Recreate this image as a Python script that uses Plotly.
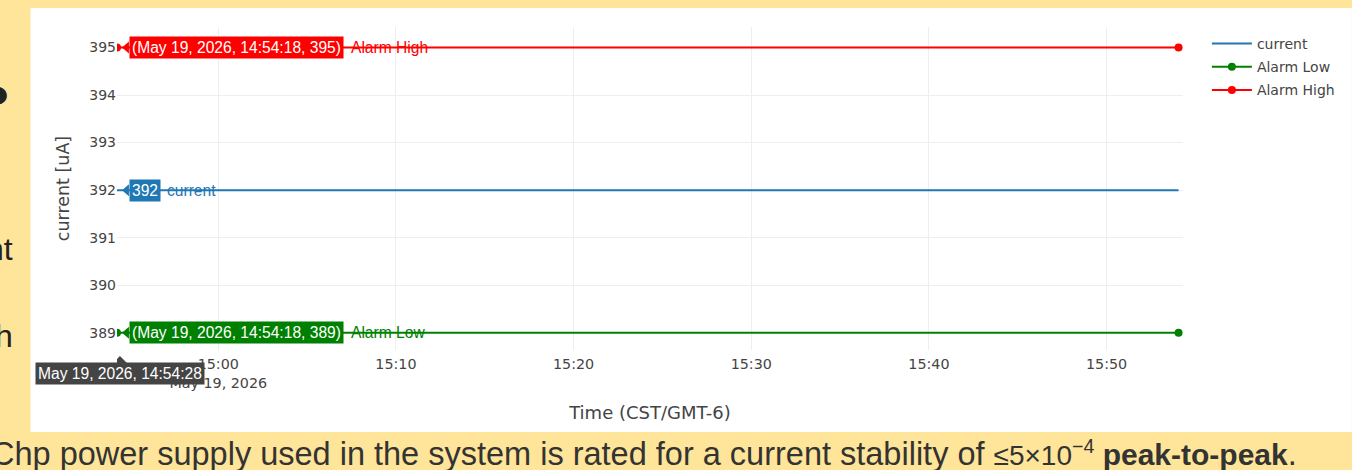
import plotly.graph_objects as go

# ---------------- data ----------------
alarm_times = ["2026-05-19 14:54:18", "2026-05-19 15:54:03"]
alarm_high = [395, 395]
alarm_low = [389, 389]

current_times = ["2026-05-19 14:54:18", "2026-05-19 14:54:28", "2026-05-19 15:04:28",
                 "2026-05-19 15:14:28", "2026-05-19 15:24:28", "2026-05-19 15:34:28",
                 "2026-05-19 15:44:28", "2026-05-19 15:54:03"]
current_vals = [392, 392, 392, 392, 392, 392, 392, 392]

x_range = ["2026-05-19 14:54:18", "2026-05-19 15:54:18"]
y_range = [388.64, 395.43]
y_ticks = [389, 390, 391, 392, 393, 394, 395]

hover_time = "2026-05-19 14:54:28"
hover_time_label = "May 19, 2026, 14:54:28"
alarm_time_label = "May 19, 2026, 14:54:18"

slide_text = ("Chp power supply used in the system is rated for a current stability of "
              "<span style='font-size:28px'>≤5×10<sup>−4</sup></span>"
              "<b><span style='font-size:30px'> peak-to-peak</span></b>.")

BLUE = "#1f77b4"
GREEN = "#008000"
RED = "#ff0000"
YELLOW = "#ffe599"

W, H = 1352, 470
L, R, T, B = 117, 162, 27, 120
PW, PH = W - L - R, H - T - B


def px_x(p):
    return (p - L) / PW


def px_y(p):
    return (H - B - p) / PH


fig = go.Figure()
fig.add_trace(go.Scatter(x=current_times, y=current_vals, name="current", mode="lines",
                         line=dict(color=BLUE, width=2), legendgroup="a"))
fig.add_trace(go.Scatter(x=alarm_times, y=alarm_low, name="Alarm Low", mode="lines+markers",
                         line=dict(color=GREEN, width=2), marker=dict(size=8, color=GREEN),
                         legendgroup="b"))
fig.add_trace(go.Scatter(x=alarm_times, y=alarm_high, name="Alarm High", mode="lines+markers",
                         line=dict(color=RED, width=2), marker=dict(size=8, color=RED),
                         legendgroup="c"))

shapes = []
annotations = []

# white panel of the screenshot
shapes.append(dict(type="rect", xref="paper", yref="paper", x0=px_x(30), x1=px_x(1360),
                   y0=px_y(432), y1=px_y(8), fillcolor="white", line=dict(width=0),
                   layer="below"))

HF = "Liberation Sans, Arial, sans-serif"
HS = 15.6
labels = [
    (alarm_high[0], RED, f"({alarm_time_label}, {alarm_high[0]})", "Alarm High", 229),
    (current_vals[1], BLUE, f"{current_vals[1]}", "current", 45),
    (alarm_low[0], GREEN, f"({alarm_time_label}, {alarm_low[0]})", "Alarm Low", 229),
]
for yv, col, txt, name, nshift in labels:
    shapes.append(dict(type="path", xref="x", yref="y", xsizemode="pixel", ysizemode="pixel",
                       xanchor=hover_time, yanchor=yv, path="M2,0 L9,6 L9,-6 Z",
                       fillcolor=col, line=dict(width=0), layer="above"))
    annotations.append(dict(x=hover_time, y=yv, xref="x", yref="y", text=txt,
                            showarrow=False, xanchor="left", yanchor="middle", xshift=9,
                            bgcolor=col, borderpad=2, font=dict(family=HF, size=HS, color="white")))
    annotations.append(dict(x=hover_time, y=yv, xref="x", yref="y", text=name,
                            showarrow=False, xanchor="left", yanchor="middle", xshift=nshift,
                            font=dict(family=HF, size=HS, color=col)))

# x spike label
shapes.append(dict(type="path", xref="x", yref="paper", xsizemode="pixel", ysizemode="pixel",
                   xanchor=hover_time, yanchor=0, path="M0,-6 L-7,-13 L7,-13 Z",
                   fillcolor="#444", line=dict(width=0), layer="above"))
annotations.append(dict(x=hover_time, y=0, xref="x", yref="paper", text=hover_time_label,
                        showarrow=False, xanchor="center", yanchor="top", yshift=-12,
                        bgcolor="#444", borderpad=2, font=dict(family=HF, size=HS, color="white")))

# slide fragments
SF = "Liberation Sans, Arial, sans-serif"
annotations.append(dict(x=px_x(-12), y=px_y(453), xref="paper", yref="paper", text=slide_text,
                        showarrow=False, xanchor="left", yanchor="middle",
                        font=dict(family=SF, size=32.5, color="#333")))
for txt, xp, yp, fs in [("●", 11, 93, 40), ("nt", 14, 249, 32), ("h", 14, 336, 32)]:
    annotations.append(dict(x=px_x(xp), y=px_y(yp), xref="paper", yref="paper", text=txt,
                            showarrow=False, xanchor="right", yanchor="middle",
                            font=dict(family=SF, size=fs, color="#222")))

fig.update_layout(
    width=W, height=H,
    margin=dict(l=L, r=R, t=T, b=B, pad=0),
    paper_bgcolor=YELLOW, plot_bgcolor="white",
    font=dict(family="DejaVu Sans, Verdana, sans-serif", size=14, color="#444"),
    showlegend=True,
    legend=dict(x=1.0224, y=0.997, xanchor="left", yanchor="top", tracegroupgap=2,
                itemwidth=40,
                font=dict(size=14, color="#444"), bgcolor="rgba(0,0,0,0)"),
    shapes=shapes, annotations=annotations,
    xaxis=dict(type="date", range=x_range, dtick=600000, showgrid=True, gridcolor="#eee",
               zeroline=False, showline=False, tickfont=dict(size=14.3),
               ticks="outside", ticklen=1, tickcolor="rgba(0,0,0,0)",
               title=dict(text="Time (CST/GMT-6)", font=dict(size=18), standoff=16)),
    yaxis=dict(range=y_range, tickvals=y_ticks, showgrid=True, gridcolor="#eee",
               zeroline=False, showline=False, tickfont=dict(size=14),
               title=dict(text="current [uA]", font=dict(size=17.5))),
)

fig.write_html("out.html", config={"displayModeBar": False},
               post_script="document.body.style.margin='0';document.body.style.background='#ffe599';")
